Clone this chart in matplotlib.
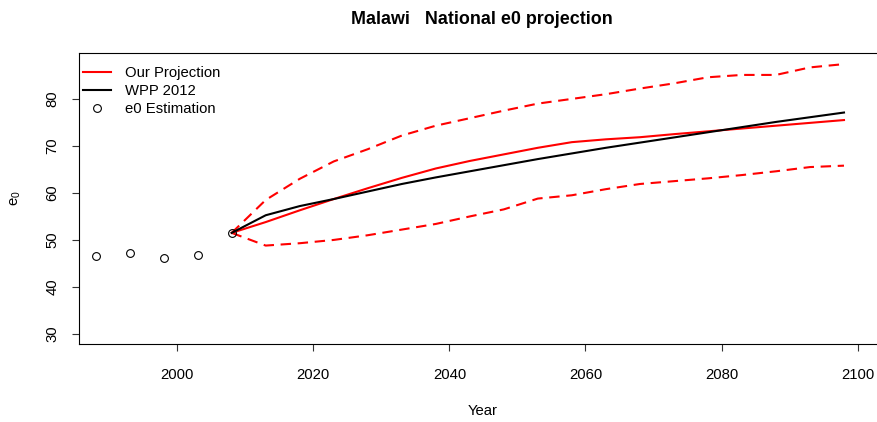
import numpy as np
import matplotlib
matplotlib.use("Agg")
import matplotlib.pyplot as plt

plt.rcParams['font.family'] = ['Liberation Sans', 'DejaVu Sans']

# observed e0 estimates (5-year periods)
est_years = [1988, 1993, 1998, 2003, 2008]
est_e0 = [46.65, 47.3, 46.1, 46.8, 51.5]

# projection years
proj_years = list(range(2008, 2099, 5))

median_e0 = [51.5, 53.8, 56.3, 58.7, 61.0, 63.2, 65.2, 66.8, 68.2, 69.6,
             70.8, 71.4, 71.85, 72.5, 73.1, 73.7, 74.3, 74.9, 75.5]
upper_e0 = [51.5, 58.5, 63.0, 66.7, 69.3, 72.2, 74.3, 75.9, 77.5, 79.0,
            80.0, 81.0, 82.2, 83.3, 84.6, 85.1, 85.1, 86.7, 87.4]
lower_e0 = [51.5, 48.8, 49.3, 50.0, 51.0, 52.2, 53.4, 55.0, 56.5, 58.8,
            59.5, 60.8, 61.9, 62.5, 63.1, 63.8, 64.6, 65.5, 65.8]
wpp_e0 = [51.5, 55.25, 57.2, 58.7, 60.3, 61.9, 63.3, 64.6, 65.9, 67.2,
          68.4, 69.6, 70.7, 71.8, 72.9, 74.0, 75.1, 76.1, 77.1]

W, H = 878, 422
fig = plt.figure(figsize=(W / 100, H / 100), dpi=100)
# plot region is cut off at the right edge, like the original picture
ax = fig.add_axes([79.3 / W, 1 - 344.3 / H, (W - 79.3) / W, (344.3 - 53.3) / H])

red = '#ff0000'
lw = 1.5
fs = 10.7
ax.plot(proj_years, median_e0, color=red, lw=lw, label='Our Projection')
ax.plot(proj_years, upper_e0, color=red, lw=lw, dashes=(5, 3.2))
ax.plot(proj_years, lower_e0, color=red, lw=lw, dashes=(5, 3.2))
ax.plot(proj_years, wpp_e0, color='black', lw=lw, label='WPP 2012')
ax.plot(est_years, est_e0, ls='none', marker='o', ms=5.6, mfc='none',
        mec='black', mew=0.8, label='e0 Estimation')

ax.set_xlim(1985.6, 2103.0)
ax.set_ylim(27.8, 89.7)
ax.set_xticks(np.arange(2000, 2101, 20))
ax.set_yticks(np.arange(30, 81, 10))

for s in ['left', 'bottom', 'top']:
    ax.spines[s].set_linewidth(0.8)
ax.spines['right'].set_visible(False)

ax.tick_params(axis='both', direction='out', length=5, width=0.8,
               labelsize=fs, color='#333333')
ax.tick_params(axis='x', pad=12)
ax.tick_params(axis='y', pad=9.5)
for t in ax.get_yticklabels():
    t.set_rotation(90)
    t.set_va('center')

ax.set_xlabel('Year', fontsize=fs, va='center')
ax.xaxis.set_label_coords(483 / W, 1 - 411 / H, transform=fig.transFigure)
ax.set_ylabel(r'$\mathregular{e_0}$', fontsize=fs, va='center')
ax.yaxis.set_label_coords(16 / W, 1 - 198 / H, transform=fig.transFigure)

fig.text(482 / W, 1 - 23.5 / H, 'Malawi   National e0 projection',
         ha='center', va='baseline', fontsize=12.9, fontweight='bold')

ax.legend(loc='upper left', bbox_to_anchor=(0.0047, 0.956), frameon=False,
          fontsize=fs, handlelength=1.9, handletextpad=0.95,
          labelspacing=0.27, borderaxespad=0, borderpad=0)

fig.savefig('out.png', dpi=100)
